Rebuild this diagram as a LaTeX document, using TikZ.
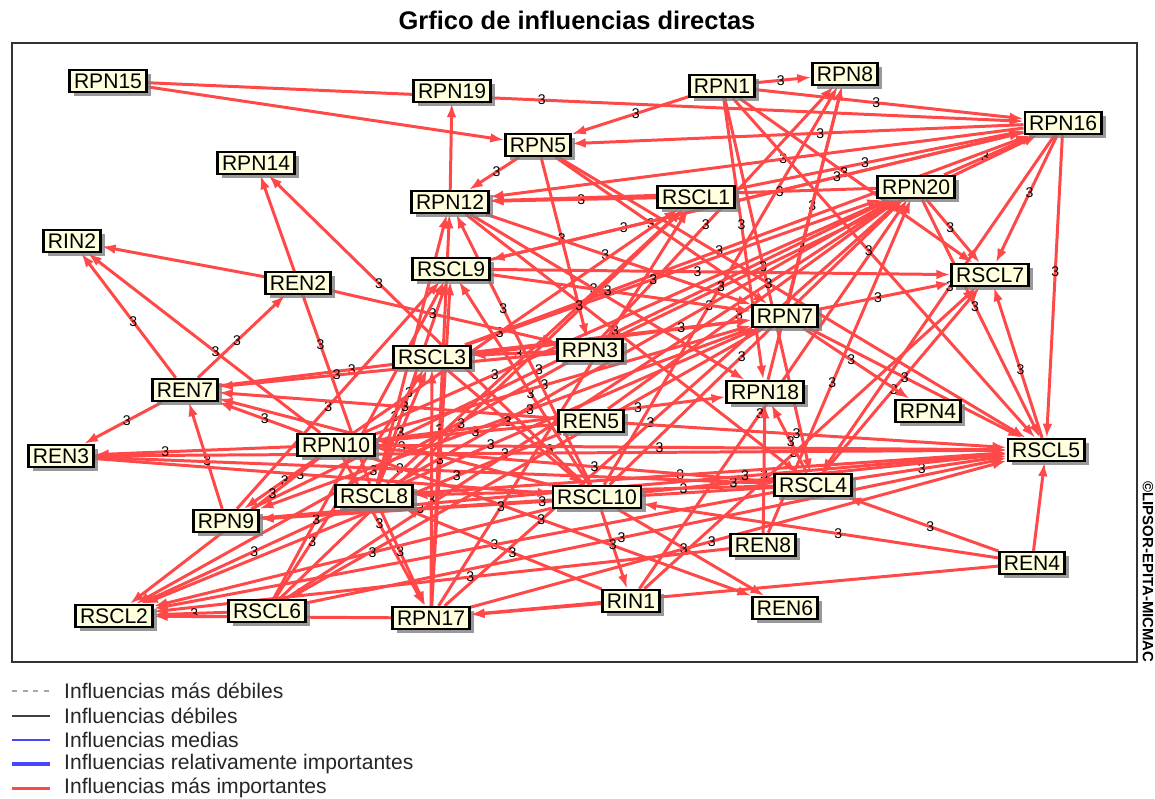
\documentclass[tikz,border=0pt]{standalone}
\usepackage{fontspec}
\setmainfont{Liberation Sans}
\usetikzlibrary{arrows.meta}
\usetikzlibrary{shadows}
\definecolor{flowred}{RGB}{255,72,72}
\definecolor{boxfill}{RGB}{255,255,222}
\definecolor{midblue}{RGB}{70,70,255}
\pgfdeclarelayer{edges}
\pgfsetlayers{edges,main}
\tikzset {
  % factor boxes
  factor/.style={draw=black, line width=1.3pt, fill=boxfill, inner xsep=2.5pt, inner ysep=2pt,
    text height=8.6pt, text depth=0pt, font=\fontsize{12}{12}\selectfont,
    drop shadow={shadow xshift=2.5pt, shadow yshift=-2.5pt, fill=black!50, opacity=0.8}},
  % influence lines of the legend
  weakest/.style={black!35, dashed, line width=0.6pt},
  weak/.style={black!75, line width=0.6pt},
  medium/.style={midblue, line width=0.6pt},
  relimp/.style={midblue, line width=1.8pt},
  strongest/.style={flowred, line width=1.7pt},
  % directed influence between factors
  flow/.style={strongest, -{Latex[length=8pt,width=5.5pt]}},
  weight/.style={pos=0.45, font=\fontsize{8}{8}\selectfont, text=black, inner sep=0.5pt},
}
\begin{document}
\begin{tikzpicture}[x=0.02cm, y=-0.02cm]
  \useasboundingbox (0,0) rectangle (1155,798);
  \node[font=\bfseries\fontsize{14.5}{14.5}\selectfont] (title) at (577,20) {Grfico de influencias directas};
  \draw[black!80, line width=0.8pt] (12,43) rectangle (1137,662);

  \node[factor] (p15) at (108,81) {RPN15};
  \node[factor] (p19) at (452,91) {RPN19};
  \node[factor] (p1) at (722,86) {RPN1};
  \node[factor] (p8) at (845,74) {RPN8};
  \node[factor] (p16) at (1063,123) {RPN16};
  \node[factor] (p5) at (538,145) {RPN5};
  \node[factor] (p14) at (256,163) {RPN14};
  \node[factor] (p20) at (916,187) {RPN20};
  \node[factor] (s1) at (696,197) {RSCL1};
  \node[factor] (p12) at (450,202) {RPN12};
  \node[factor] (i2) at (72,241) {RIN2};
  \node[factor] (s9) at (451,269) {RSCL9};
  \node[factor] (s7) at (990,275) {RSCL7};
  \node[factor] (e2) at (298,283) {REN2};
  \node[factor] (p7) at (785,316) {RPN7};
  \node[factor] (s3) at (432,357) {RSCL3};
  \node[factor] (p3) at (590,350) {RPN3};
  \node[factor] (e7) at (185,390) {REN7};
  \node[factor] (p18) at (765,392) {RPN18};
  \node[factor] (p4) at (928,411) {RPN4};
  \node[factor] (e5) at (591,421) {REN5};
  \node[factor] (s5) at (1046,450) {RSCL5};
  \node[factor] (e3) at (61,456) {REN3};
  \node[factor] (p10) at (336,445) {RPN10};
  \node[factor] (s8) at (374,496) {RSCL8};
  \node[factor] (s10) at (597,497) {RSCL10};
  \node[factor] (s4) at (813,485) {RSCL4};
  \node[factor] (p9) at (226,521) {RPN9};
  \node[factor] (e8) at (763,545) {REN8};
  \node[factor] (e4) at (1032,563) {REN4};
  \node[factor] (i1) at (631,601) {RIN1};
  \node[factor] (e6) at (785,608) {REN6};
  \node[factor] (s2) at (114,616) {RSCL2};
  \node[factor] (s6) at (267,611) {RSCL6};
  \node[factor] (p17) at (431,618) {RPN17};

  \begin{pgfonlayer}{edges}
    % influences with their weight
    \foreach \a/\b in {p15/p16, p1/p5, p16/p5, p1/p8, p7/p8, s10/p8, p18/p8, p3/p8,
        p1/p16, s1/p16, p20/p16, s3/p16,
        s8/p20, s10/p20, p17/p20, s3/p20, p9/p20, e5/p20, i1/p20, s6/p20,
        p20/s7, p20/s5, p16/s7, p16/s5, p16/p12, p16/s4,
        p1/s7, p1/s5, p1/p18, p1/s4, p5/p7, p5/p3, p5/s5, p5/p12,
        p12/p18, p12/p7, p12/s4, p17/p12, s1/p12,
        p10/s1, p10/i2, e7/i2, s8/p14,
        p17/s9, s8/s9, p9/s9, s10/s9, s9/p7, s9/s7,
        p7/s7, s5/s7, s4/s7, i1/s7, p7/s5, p7/p4, p7/p9, p7/s6,
        p10/p7, p3/s3, p3/s2, e2/p3,
        s3/s10, s8/s3, p10/e7, s10/e7, e5/e7, e7/e3, e7/e2, p9/e7,
        s4/p18, e8/p18, e5/s5, e5/p10,
        e3/s5, p10/s5, s8/s5, s4/s5, s6/s5, p17/s5,
        e3/s4, e3/s10, p10/p9, p10/p17, p10/e6,
        s8/s2, s8/p17, s10/s2, s10/p9, s10/i1, s10/e6,
        s4/s2, s4/p9, s4/p10, e8/p20, e8/s2,
        e4/s4, e4/s10, i1/s8, s6/s2, s6/s1, p17/s3}
      \draw[flow] (\a) -- node[weight] {3} (\b);
    % weights moved off the boxes and weights they would cover
    \foreach \a/\b in {p20/p12, e7/p7, p10/s2, s8/p12, s6/s3, s4/s8, p17/s1, s6/s9,
        s8/p7, s10/s5, p3/p16, s9/p16, p10/p20, e5/s2}
      \draw[flow] (\a) -- node[weight, pos=0.25] {3} (\b);
    \foreach \a/\b in {p16/s9}
      \draw[flow] (\a) -- node[weight, pos=0.35] {3} (\b);
    \foreach \a/\b in {p3/e7, p9/s5, s10/p14, s8/s1, s10/p12, p10/e3}
      \draw[flow] (\a) -- node[weight, pos=0.65] {3} (\b);
    \foreach \a/\b in {s3/p7, p10/p18}
      \draw[flow] (\a) -- node[weight, pos=0.75] {3} (\b);
    % influences drawn without weight
    \foreach \a/\b in {p15/p5, p12/p19, e2/i2, e4/s5, e4/p17, i1/p17, p17/s2}
      \draw[flow] (\a) -- (\b);
  \end{pgfonlayer}

  \node[rotate=-90, font=\bfseries\fontsize{8.5}{8.5}\selectfont] (credit) at (1148,572) {©LIPSOR-EPITA-MICMAC};

  % legend
  \foreach \y/\sty/\txt in {691/weakest/Influencias más débiles, 716/weak/Influencias débiles,
      740/medium/Influencias medias, 764/relimp/Influencias relativamente importantes,
      788/strongest/Influencias más importantes} {
    \coordinate (k\y) at (12,\y);
    \coordinate (m\y) at (50,\y);
    \draw[\sty] (k\y) -- (m\y);
    \node[anchor=west, font=\fontsize{12}{12}\selectfont, text=black!85] (t\y) at (58,\y) {\txt};
  }
\end{tikzpicture}
\end{document}
